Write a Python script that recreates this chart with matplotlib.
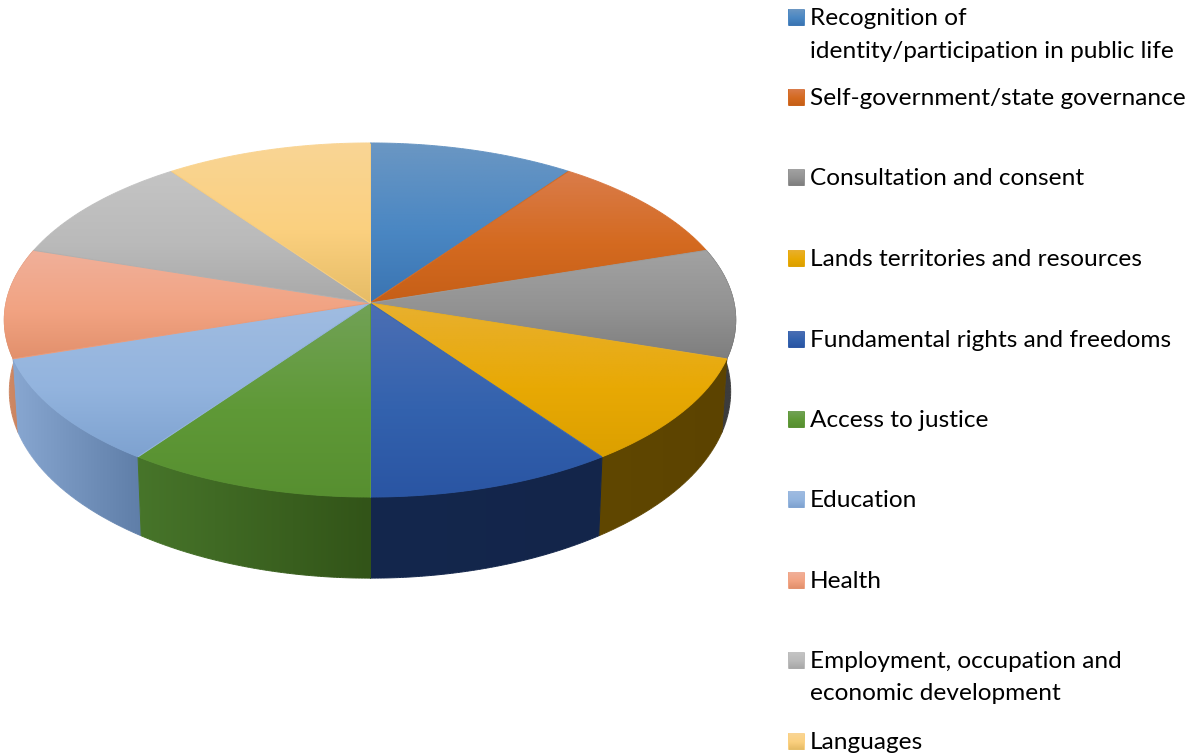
import numpy as np
import matplotlib
matplotlib.use('Agg')
import matplotlib.pyplot as plt
from matplotlib.collections import LineCollection
from matplotlib.colors import to_rgb
from matplotlib.patches import Polygon

labels = [
    'Recognition of\nidentity/participation in public life',
    'Self-government/state governance',
    'Consultation and consent',
    'Lands territories and resources',
    'Fundamental rights and freedoms',
    'Access to justice',
    'Education',
    'Health',
    'Employment, occupation and\neconomic development',
    'Languages',
]
values = [10, 10, 10, 10, 10, 10, 10, 10, 10, 10]

# colours: top face goes light, base, dark from top to bottom of each slice
face_top = ['#6b97c3', '#da7c4a', '#a2a2a2', '#e8b02f', '#4c6fb4', '#72a257', '#a0bce1', '#f0b09a', '#c4c4c4', '#f9d595']
face_mid = ['#4a87c3', '#d46a20', '#929292', '#e8a904', '#3362ae', '#5f9937', '#93b4de', '#f2a382', '#bababa', '#fbd07f']
face_low = ['#3a74b2', '#c65f17', '#7e7e7e', '#dca000', '#2a55a3', '#578f30', '#7ea2d0', '#e2906c', '#a8a8a8', '#e6bc66']
wall_left = ['#3a5f84', '#8c4513', '#3c3c3c', '#604700', '#14274d', '#47752a', '#88a7d1', '#d08a66', '#7f7f7f', '#a68a4a']
wall_right = ['#3a5f84', '#8c4513', '#3c3c3c', '#5c4300', '#13254a', '#325418', '#5f7ea8', '#c47d58', '#7f7f7f', '#a68a4a']
legend_y = [17, 97, 177, 258, 339, 419, 499, 580, 660, 741]

CX = 370
K = 0.096
TOP = dict(a=364, b=175.4, cy=303)
BOTTOM = dict(a=359, b=185, cy=373.5)


def project(theta, a, b, cy):
    # theta runs clockwise from the back of the pie
    u = np.sin(theta)
    v = -np.cos(theta)
    w = 1 - K * v
    return CX + a * u / w, cy + b * v / w


def arc(start, end, shape):
    t = np.linspace(start, end, 80)
    return np.column_stack(project(t, **shape))


def ramp(stops, s):
    # stops are evenly placed except the middle one, which sits a bit past halfway
    xp = [0, 1] if len(stops) == 2 else [0, 0.55, 1]
    rgb = np.array([to_rgb(c) for c in stops])
    return np.column_stack([np.interp(s, xp, rgb[:, k]) for k in range(3)])


def gradient_fill(ax, pts, stops, vertical=True):
    x0, x1 = pts[:, 0].min(), pts[:, 0].max()
    y0, y1 = pts[:, 1].min(), pts[:, 1].max()
    cols = ramp(stops, np.linspace(0, 1, 256))
    img = cols[:, None, :] if vertical else cols[None, :, :]
    im = ax.imshow(img, extent=(x0, x1, y1, y0), aspect='auto', interpolation='bilinear', zorder=ax.zcount)
    poly = Polygon(pts, closed=True, transform=ax.transData, fc='none', ec='none')
    ax.add_patch(poly)
    im.set_clip_path(poly)

    # the clip edge is jagged, so stroke it to smooth it
    closed = np.vstack([pts, pts[:1]])
    segs = np.stack([closed[:-1], closed[1:]], axis=1)
    mid = segs.mean(axis=1)
    pos = (mid[:, 1] - y0) / max(y1 - y0, 1) if vertical else (mid[:, 0] - x0) / max(x1 - x0, 1)
    ax.add_collection(LineCollection(segs, colors=ramp(stops, pos), linewidths=0.7, zorder=ax.zcount))
    ax.zcount += 1


fig = plt.figure(figsize=(11.87, 7.54), dpi=100)
ax = fig.add_axes([0, 0, 1, 1])
ax.zcount = 1

edges = np.radians(np.concatenate([[0], np.cumsum(values)]) * 360 / sum(values))

# walls go back to front so the nearest ones end up on top
order = sorted(range(len(values)), key=lambda i: np.cos((edges[i] + edges[i + 1]) / 2), reverse=True)
for i in order:
    if np.cos((edges[i] + edges[i + 1]) / 2) > 0.5:
        continue
    pts = np.vstack([arc(edges[i], edges[i + 1], TOP), arc(edges[i + 1], edges[i], BOTTOM)])
    gradient_fill(ax, pts, [wall_left[i], wall_right[i]], vertical=False)

# top face
for i in range(len(values)):
    pts = np.vstack([[CX, TOP['cy']], arc(edges[i], edges[i + 1], TOP)])
    gradient_fill(ax, pts, [face_top[i], face_mid[i], face_low[i]])

# legend, lines placed one by one since multiline spacing jumps with font size
for i, lab in enumerate(labels):
    y = legend_y[i]
    sw = np.array([[788, y - 8], [804, y - 8], [804, y + 8], [788, y + 8]], dtype=float)
    gradient_fill(ax, sw, [face_top[i], face_mid[i], face_low[i]])
    for j, line in enumerate(lab.split('\n')):
        ax.text(809.5, y + 8 + 32.5 * j, line, family='Lato', fontsize=17.6, color='black',
                va='baseline', ha='left', zorder=100)

ax.set_xlim(0, 1187)
ax.set_ylim(754, 0)
ax.axis('off')
fig.savefig('out.png', dpi=100)
